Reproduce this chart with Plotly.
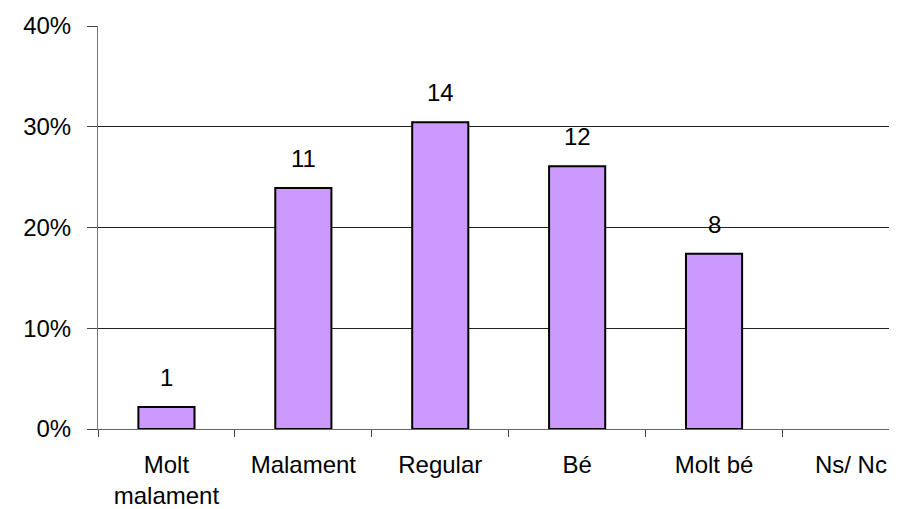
import plotly.graph_objects as go

categories = ["Molt<br>malament", "Malament", "Regular", "Bé", "Molt bé", "Ns/ Nc"]
counts = [1, 11, 14, 12, 8, 0]
total = sum(counts)
shares = [c / total for c in counts]

FONT = "Liberation Sans, Arial, sans-serif"

fig = go.Figure(
    go.Bar(
        x=categories,
        y=shares,
        width=0.41,
        marker=dict(color="#CC99FF",
                    line=dict(color="black", width=[2 if c else 0 for c in counts])),
        hoverinfo="skip",
    )
)

# count labels above bars (Ns/Nc has none)
for cat, c, s in zip(categories, counts, shares):
    if c > 0:
        fig.add_annotation(x=cat, y=s, text=str(c), showarrow=False,
                           yanchor="bottom", yshift=14,
                           font=dict(family=FONT, size=24, color="black"))

# the page body takes 8px on each side, so the figure gets 881px of width
fig.update_layout(
    width=881, height=501,
    margin=dict(l=90, r=0, t=18, b=80),
    plot_bgcolor="white", paper_bgcolor="white",
    showlegend=False,
    font=dict(family=FONT, size=24, color="black"),
)
fig.update_xaxes(
    type="category", range=[-0.5, 5.278], automargin=False,
    tickson="boundaries", ticks="outside", ticklen=7, tickcolor="#444",
    showline=True, linecolor="#666", linewidth=1,
    showgrid=False, ticklabelstandoff=14,
)
fig.update_yaxes(
    range=[0, 0.4], dtick=0.1, tickformat=".0%", automargin=False,
    ticks="outside", ticklen=10, tickcolor="#444",
    showline=True, linecolor="#777", linewidth=1,
    showgrid=True, gridcolor="#222", gridwidth=1,
    zeroline=False, ticklabelstandoff=11,
)

fig.write_html("out.html")
